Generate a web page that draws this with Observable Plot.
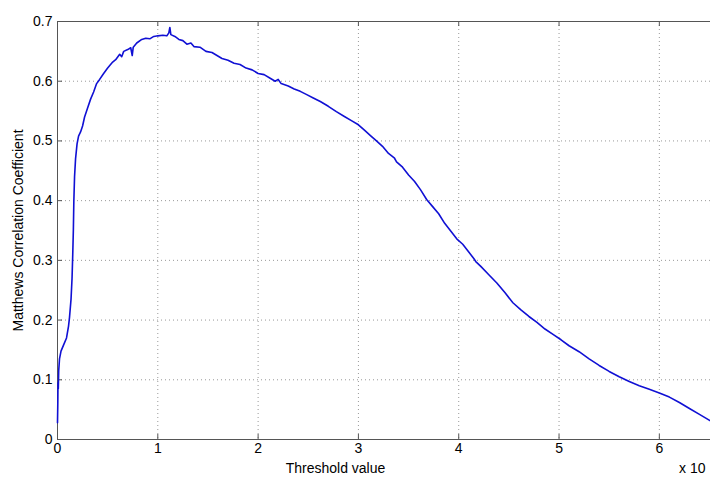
<!DOCTYPE html>
<html>
<head>
<meta charset="utf-8">
<script src="https://cdn.jsdelivr.net/npm/d3@7"></script>
<script src="https://cdn.jsdelivr.net/npm/@observablehq/plot@0.6"></script>
<style>
  html, body { margin: 0; padding: 0; background: #fff; }
  #chart svg { display: block; }
</style>
</head>
<body>
<div id="chart"></div>
<script>
// Threshold value (x 10^k) and Matthews correlation coefficient
const thresholds = [
  0.000, 0.003, 0.005, 0.008, 0.012, 0.020, 0.035, 0.060, 0.090, 0.110,
  0.120, 0.135, 0.145, 0.152, 0.158, 0.163, 0.170, 0.180, 0.195, 0.210,
  0.230, 0.250, 0.270, 0.300, 0.330, 0.360, 0.390, 0.420, 0.460, 0.500,
  0.550, 0.580, 0.620, 0.640, 0.660, 0.700, 0.730, 0.745, 0.755, 0.790,
  0.840, 0.880, 0.920, 0.960, 1.000, 1.050, 1.090, 1.110, 1.120, 1.130,
  1.170, 1.210, 1.250, 1.290, 1.330, 1.360, 1.420, 1.480, 1.540, 1.590,
  1.640, 1.700, 1.760, 1.820, 1.880, 1.940, 2.000, 2.060, 2.120, 2.170,
  2.200, 2.230, 2.300, 2.360, 2.420, 2.480, 2.550, 2.620, 2.700, 2.780,
  2.860, 2.930, 3.000, 3.060, 3.120, 3.180, 3.240, 3.300, 3.360, 3.380,
  3.440, 3.500, 3.560, 3.620, 3.680, 3.740, 3.800, 3.860, 3.920, 3.980,
  4.040, 4.100, 4.150, 4.170, 4.220, 4.300, 4.380, 4.460, 4.540, 4.620,
  4.700, 4.780, 4.860, 4.940, 5.020, 5.100, 5.200, 5.300, 5.400, 5.500,
  5.600, 5.700, 5.800, 5.900, 6.000, 6.100, 6.200, 6.300, 6.400, 6.510
];
const mcc = [
  0.028, 0.060, 0.095, 0.085, 0.115, 0.135, 0.148, 0.158, 0.170, 0.190,
  0.205, 0.235, 0.270, 0.310, 0.350, 0.400, 0.440, 0.470, 0.495, 0.508,
  0.515, 0.525, 0.540, 0.555, 0.570, 0.582, 0.596, 0.603, 0.613, 0.622,
  0.632, 0.636, 0.645, 0.641, 0.650, 0.653, 0.656, 0.643, 0.657, 0.664,
  0.670, 0.672, 0.671, 0.675, 0.676, 0.677, 0.676, 0.681, 0.690, 0.678,
  0.675, 0.670, 0.668, 0.662, 0.664, 0.658, 0.657, 0.650, 0.648, 0.643,
  0.638, 0.635, 0.630, 0.628, 0.622, 0.619, 0.613, 0.611, 0.605, 0.600,
  0.603, 0.596, 0.592, 0.587, 0.583, 0.578, 0.572, 0.566, 0.558, 0.549,
  0.541, 0.534, 0.527, 0.518, 0.509, 0.500, 0.491, 0.479, 0.471, 0.465,
  0.456, 0.443, 0.432, 0.418, 0.402, 0.390, 0.378, 0.362, 0.349, 0.336,
  0.327, 0.314, 0.303, 0.298, 0.290, 0.276, 0.262, 0.246, 0.229, 0.217,
  0.206, 0.196, 0.185, 0.176, 0.167, 0.157, 0.147, 0.135, 0.124, 0.114,
  0.105, 0.097, 0.090, 0.084, 0.078, 0.071, 0.062, 0.052, 0.042, 0.031
];
const xTicks = [0, 1, 2, 3, 4, 5, 6];
const yTicks = [0, 0.1, 0.2, 0.3, 0.4, 0.5, 0.6, 0.7];
const yTickLabels = ["0", "0.1", "0.2", "0.3", "0.4", "0.5", "0.6", "0.7"];
const xLabel = "Threshold value";
const yLabel = "Matthews Correlation Coefficient";
const exponentLabel = "x 10";

const data = thresholds.map((t, i) => ({t, m: mcc[i]}));

const W = 710, H = 478;
const mL = 57, mR = 0, mT = 21, mB = 39;
const innerW = W - mL - mR, innerH = H - mT - mB;
const frameColor = "#555";
const gridColor = "#999";
const font = "'Liberation Sans', Arial, Helvetica, sans-serif";

const chart = Plot.plot({
  width: W,
  height: H,
  marginLeft: mL,
  marginRight: mR,
  marginTop: mT,
  marginBottom: mB,
  style: {fontFamily: font, fontSize: "14px", color: "#000", background: "#fff"},
  x: {domain: [0, 6.51]},
  y: {domain: [0, 0.7]},
  marks: [
    // dotted grid
    Plot.ruleX(xTicks.slice(1), {x: d => d, stroke: gridColor, strokeDasharray: "1,3", strokeWidth: 1}),
    Plot.ruleY(yTicks.slice(1, -1), {y: d => d, stroke: gridColor, strokeDasharray: "1,3", strokeWidth: 1}),
    // inward tick marks
    Plot.ruleX(xTicks.slice(1), {x: d => d, insetTop: innerH - 5, stroke: frameColor}),
    Plot.ruleX(xTicks.slice(1), {x: d => d, insetBottom: innerH - 5, stroke: frameColor}),
    Plot.ruleY(yTicks.slice(1, -1), {y: d => d, insetRight: innerW - 5, stroke: frameColor}),
    // frame (left, bottom, top)
    Plot.ruleX([0], {stroke: frameColor}),
    Plot.ruleY([0, 0.7], {stroke: frameColor}),
    // axes labels
    Plot.axisX(xTicks, {tickSize: 0, tickPadding: 4, label: null, fontSize: 14, tickFormat: d => String(d)}),
    Plot.axisY(yTicks, {tickSize: 0, tickPadding: 5, label: null, fontSize: 14, tickFormat: (d, i) => yTickLabels[i]}),
    // curve
    Plot.line(data, {x: "t", y: "m", stroke: "#1010d4", strokeWidth: 1.6, strokeLinejoin: "round"}),
    // titles
    Plot.text([xLabel], {frameAnchor: "bottom", text: d => d, dx: 335 - (mL + innerW / 2), dy: 29, lineAnchor: "middle", fontSize: 14, fill: "#000"}),
    Plot.text([yLabel], {frameAnchor: "left", text: d => d, dx: -39, rotate: -90, lineAnchor: "middle", textAnchor: "middle", fontSize: 14, fill: "#000"}),
    Plot.text([exponentLabel], {frameAnchor: "bottom-right", text: d => d, dx: -5, dy: 29, textAnchor: "end", lineAnchor: "middle", fontSize: 14, fill: "#000"})
  ]
});
document.getElementById("chart").appendChild(chart);
</script>
</body>
</html>
